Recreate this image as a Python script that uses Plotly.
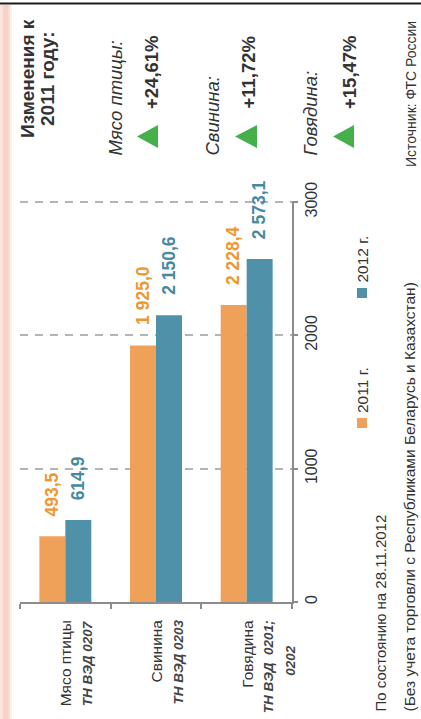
import plotly.graph_objects as go

# ---------------- data ----------------
categories = ["Мясо птицы", "Свинина", "Говядина"]
category_codes = [["ТН ВЭД 0207"], ["ТН ВЭД 0203"], ["ТН ВЭД  0201;", "0202"]]
series_names = ["2011 г.", "2012 г."]
values_2011 = [493.5, 1925.0, 2228.4]
values_2012 = [614.9, 2150.6, 2573.1]
y_ticks = [0, 1000, 2000, 3000]
y_max = 3008
change_names = ["Мясо птицы:", "Свинина:", "Говядина:"]
change_values = ["+24,61%", "+11,72%", "+15,47%"]
title_lines = ["Изменения к", "2011 году:"]
note_date = "По состоянию на 28.11.2012"
note_excl = "(Без учета торговли с Республиками Беларусь и Казахстан)"
source_text = "Источник: ФТС России"

# ---------------- style ----------------
FONT = "Liberation Sans, Arial, sans-serif"
ORANGE = "#F0A159"
ORANGE_TXT = "#F0952F"
TEAL = "#4E91A9"
TEAL_TXT = "#4589A2"
GREEN = "#45AF4B"
DARK = "#333333"
AXIS = "#8C8C8C"

W, H = 421, 719
L, R, T, B = 20, 292, 201, 602  # plot area in pixels


def X(px):
    return (px - L) / (R - L)


def Y(py):
    return (B - py) / (B - T)


def fmt(v):
    return f"{v:,.1f}".replace(",", " ").replace(".", ",")


fig = go.Figure()
fig.add_bar(x=categories, y=values_2011, name=series_names[0],
            marker=dict(color=ORANGE, line=dict(width=0)), hoverinfo="skip")
fig.add_bar(x=categories, y=values_2012, name=series_names[1],
            marker=dict(color=TEAL, line=dict(width=0)), hoverinfo="skip")

ann = []
shapes = []

# value labels above bars
for cat, v in zip(categories, values_2011):
    ann.append(dict(x=cat, y=v, xref="x", yref="y", text=f"<b>{fmt(v)}</b>",
                    showarrow=False, textangle=-90, xanchor="center", yanchor="bottom",
                    xshift=-13, yshift=18, font=dict(family=FONT, size=17.5, color=ORANGE_TXT)))
for cat, v in zip(categories, values_2012):
    ann.append(dict(x=cat, y=v, xref="x", yref="y", text=f"<b>{fmt(v)}</b>",
                    showarrow=False, textangle=-90, xanchor="center", yanchor="bottom",
                    xshift=13, yshift=18, font=dict(family=FONT, size=17.5, color=TEAL_TXT)))

# category labels (rotated)
for cat, codes in zip(categories, category_codes):
    ann.append(dict(x=cat, y=Y(618), xref="x", yref="paper", text=cat, showarrow=False,
                    textangle=-90, xanchor="center", yanchor="top", xshift=0,
                    font=dict(family=FONT, size=15.5, color=DARK)))
    for i, code in enumerate(codes):
        if i == 0:
            ann.append(dict(x=cat, y=Y(618), xref="x", yref="paper",
                            text=f"<b><i>{code}</i></b>", showarrow=False, textangle=-90,
                            xanchor="center", yanchor="top", xshift=22,
                            font=dict(family=FONT, size=13.5, color="#444444")))
        else:
            ann.append(dict(x=cat, y=Y(660), xref="x", yref="paper",
                            text=f"<b><i>{code}</i></b>", showarrow=False, textangle=-90,
                            xanchor="center", yanchor="middle", xshift=22 + 21 * i,
                            font=dict(family=FONT, size=13.5, color="#444444")))

# header
for i, line in enumerate(title_lines):
    ann.append(dict(x=X([27, 47][i]), y=Y(79), xref="paper", yref="paper",
                    text=f"<b>{line}</b>", showarrow=False, textangle=-90,
                    xanchor="center", yanchor="middle",
                    font=dict(family=FONT, size=19, color=DARK)))

# changes block
name_x = [115, 212, 310]
val_x = [151, 248, 349]
tri = [(137, 158), (235, 257), (333, 354)]
for i in range(3):
    ann.append(dict(x=X(name_x[i]), y=Y(158), xref="paper", yref="paper",
                    text=f"<i>{change_names[i]}</i>", showarrow=False, textangle=-90,
                    xanchor="center", yanchor="bottom",
                    font=dict(family=FONT, size=18.5, color=DARK)))
    ann.append(dict(x=X(val_x[i]), y=Y(111), xref="paper", yref="paper",
                    text=f"<b>{change_values[i]}</b>", showarrow=False, textangle=-90,
                    xanchor="center", yanchor="bottom",
                    font=dict(family=FONT, size=18.5, color=DARK)))
    t0, t1 = tri[i]
    shapes.append(dict(type="path", xref="paper", yref="paper",
                       path=f"M {X(t0)},{Y(136.5)} L {X(t1)},{Y(125)} L {X(t1)},{Y(148)} Z",
                       fillcolor=GREEN, line=dict(width=0)))

# source
ann.append(dict(x=X(411), y=Y(169), xref="paper", yref="paper", text=source_text,
                showarrow=False, textangle=-90, xanchor="center", yanchor="bottom",
                font=dict(family=FONT, size=14, color=DARK)))

# legend (rotated, manual)
leg = [(ORANGE, 428, series_names[0]), (TEAL, 298, series_names[1])]
for col, ybot, name in leg:
    shapes.append(dict(type="rect", xref="paper", yref="paper",
                       x0=X(357), x1=X(367), y0=Y(ybot), y1=Y(ybot - 10),
                       fillcolor=col, line=dict(width=0)))
    ann.append(dict(x=X(362), y=Y(ybot - 13), xref="paper", yref="paper", text=name,
                    showarrow=False, textangle=-90, xanchor="center", yanchor="bottom",
                    font=dict(family=FONT, size=15.5, color=DARK)))

# notes
ann.append(dict(x=X(380), y=Y(714), xref="paper", yref="paper", text=note_date,
                showarrow=False, textangle=-90, xanchor="center", yanchor="bottom",
                font=dict(family=FONT, size=15, color=DARK)))
ann.append(dict(x=X(409), y=Y(714), xref="paper", yref="paper", text=note_excl,
                showarrow=False, textangle=-90, xanchor="center", yanchor="bottom",
                font=dict(family=FONT, size=15.5, color=DARK)))

# decorative top line and left pink stripe
shapes.append(dict(type="line", xref="paper", yref="paper", x0=X(0), x1=X(421),
                   y0=Y(3.5), y1=Y(3.5), line=dict(color="#1A1A1A", width=2)))
for (a, b, c) in [(0, 3, "#FBE4DE"), (3, 8, "#F8D0C6"), (8, 10, "#FADCD4"), (10, 12, "#FDF0EC")]:
    shapes.append(dict(type="rect", xref="paper", yref="paper", x0=X(a), x1=X(b),
                       y0=Y(719), y1=Y(5), fillcolor=c, line=dict(width=0), layer="below"))

fig.update_layout(
    width=W, height=H,
    margin=dict(l=L, r=W - R, t=T, b=H - B, pad=0),
    paper_bgcolor="white", plot_bgcolor="white",
    barmode="group", bargap=0.427, bargroupgap=0,
    showlegend=False,
    annotations=ann, shapes=shapes,
    font=dict(family=FONT, color=DARK),
    xaxis=dict(type="category", range=[-0.5, 2.5], showticklabels=False,
               ticks="outside", tickson="boundaries", ticklen=5, tickwidth=2,
               tickcolor=AXIS, showline=True, linecolor=AXIS, linewidth=2,
               showgrid=False, zeroline=False, fixedrange=True),
    yaxis=dict(side="right", range=[0, y_max], tickvals=y_ticks,
               ticktext=[str(t) for t in y_ticks], ticks="outside", ticklen=4,
               tickwidth=2, tickcolor=AXIS, showline=True, linecolor=AXIS, linewidth=2,
               showgrid=True, gridcolor="#B4B4B4", griddash="8px,7px", gridwidth=1.5,
               zeroline=False, tickangle=-90,
               tickfont=dict(family=FONT, size=16, color=DARK), fixedrange=True),
)

fig.write_html(
    "out.html",
    config={"displayModeBar": False},
    post_script="document.body.style.margin='0';document.body.style.padding='0';"
                "document.documentElement.style.overflow='hidden';",
)
